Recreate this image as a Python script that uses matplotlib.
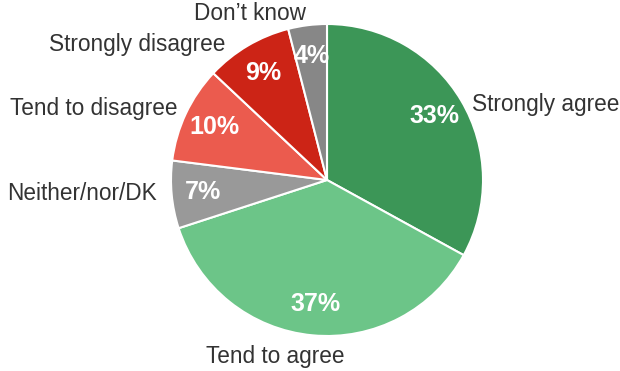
import matplotlib.pyplot as plt

# =========================
# DATA
# =========================
categories = ["Strongly agree", "Tend to agree", "Neither/nor/DK",
              "Tend to disagree", "Strongly disagree", "Don\u2019t know"]
values = [33, 37, 7, 10, 9, 4]
colors = ["#3c9657", "#6cc588", "#999999", "#eb5b4e", "#cc2416", "#878787"]

# label anchors (pixels, y from bottom) and alignment
label_pos = [(472, 267, "left"), (275, 14, "center"), (157, 178, "right"),
             (178, 263, "right"), (225, 327, "right"), (250, 358, "center")]


def main():
    plt.rcParams["font.family"] = ["Liberation Sans", "DejaVu Sans"]

    fig = plt.figure(figsize=(6.2, 3.71), dpi=100)
    ax = fig.add_axes([0, 0, 1, 1])

    wedges, texts, autotexts = ax.pie(
        values,
        labels=categories,
        colors=colors,
        startangle=90,
        counterclock=False,
        center=(327, 191),
        radius=156,
        autopct="%d%%",
        pctdistance=0.8,
        wedgeprops={"edgecolor": "white", "linewidth": 1.5},
        textprops={"fontsize": 16.3, "color": "#333333"},
    )

    for t, (x, y, ha) in zip(texts, label_pos):
        t.set_position((x, y))
        t.set_ha(ha)
        t.set_va("center")

    for t in autotexts:
        t.set_color("white")
        t.set_fontweight("bold")
        t.set_fontsize(18)

    ax.set_xlim(0, 620)
    ax.set_ylim(0, 371)
    ax.set_aspect("equal")
    ax.set_axis_off()

    fig.savefig("out.png", dpi=100)


if __name__ == "__main__":
    main()
